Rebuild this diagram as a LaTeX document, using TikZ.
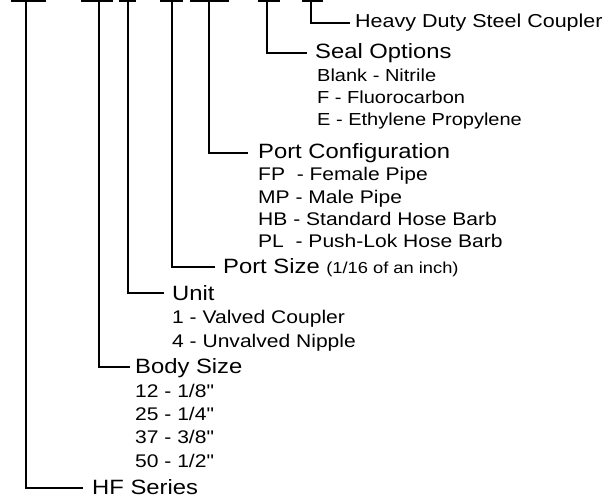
\documentclass[tikz,border=0pt]{standalone}
\usepackage{fontspec}
\setmainfont{Liberation Sans}[FakeStretch=1.15,Ligatures=TeXOff]
\begin{document}
\begin{tikzpicture}[x=1pt,y=-1pt,
  conn/.style={line width=1.8pt,black},
  head/.style={anchor=base west,inner sep=0pt,font=\fontsize{20.7}{24}\selectfont},
  sub/.style={anchor=base west,inner sep=0pt,font=\fontsize{18.3}{21}\selectfont},
  sealsub/.style={anchor=base west,inner sep=0pt,font=\fontsize{17.4}{20}\selectfont},
  heavy/.style={anchor=base west,inner sep=0pt,font=\fontsize{18.7}{22}\selectfont}]
\newcommand{\unitnote}{\fontsize{15.9}{18}\selectfont}
\useasboundingbox (0,0) rectangle (609,497);
% top bars
\coordinate (b1l) at (11,1); \coordinate (b1r) at (46,1); \coordinate (t1) at (26,1);
\coordinate (b2l) at (81,1); \coordinate (b2r) at (113,1); \coordinate (t2) at (99,1);
\coordinate (b3l) at (119,1); \coordinate (b3r) at (136,1); \coordinate (t3) at (128,1);
\coordinate (b4l) at (160,1); \coordinate (b4r) at (183,1); \coordinate (t4) at (172,1);
\coordinate (b5l) at (190,1); \coordinate (b5r) at (229,1); \coordinate (t5) at (209,1);
\coordinate (b6l) at (258,1); \coordinate (b6r) at (280,1); \coordinate (t6) at (267,1);
\coordinate (b7l) at (302,1); \coordinate (b7r) at (323,1); \coordinate (t7) at (311,1);
\foreach \i in {1,...,7} \draw[conn] (b\i l) -- (b\i r);
% connector ends
\coordinate (e1) at (83,488);
\coordinate (e2) at (130,367);
\coordinate (e3) at (164,293);
\coordinate (e4) at (215,267);
\coordinate (e5) at (248,153);
\coordinate (e6) at (307,53);
\coordinate (e7) at (350,23);
\foreach \i in {1,...,7} \draw[conn] (t\i) |- (e\i);
% texts
\node[heavy] (hd) at (355,28) {Heavy Duty Steel Coupler};
\node[head] (seal) at (315,59) {Seal Options};
\node[sealsub] (s1) at (317,82) {Blank - Nitrile};
\node[sealsub] (s2) at (317,104) {F - Fluorocarbon};
\node[sealsub] (s3) at (317,126) {E - Ethylene Propylene};
\node[head] (pc) at (258,158) {Port Configuration};
\node[sub] (p1) at (258,180) {FP\ \ - Female Pipe};
\node[sub] (p2) at (258,203) {MP - Male Pipe};
\node[sub] (p3) at (258,225) {HB - Standard Hose Barb};
\node[sub] (p4) at (258,247) {PL\ \ - Push-Lok Hose Barb};
\node[head] (ps) at (223,273) {Port Size {\unitnote (1/16 of an inch)}};
\node[head] (un) at (172,300) {Unit};
\node[sub] (u1) at (172,323) {1 - Valved Coupler};
\node[sub] (u2) at (172,347) {4 - Unvalved Nipple};
\node[head] (bs) at (135,373) {Body Size};
\node[sub] (z1) at (135,397) {12 - 1/8"};
\node[sub] (z2) at (135,420) {25 - 1/4"};
\node[sub] (z3) at (135,443) {37 - 3/8"};
\node[sub] (z4) at (135,467) {50 - 1/2"};
\node[head] (hf) at (92,494) {HF Series};
\end{tikzpicture}
\end{document}
